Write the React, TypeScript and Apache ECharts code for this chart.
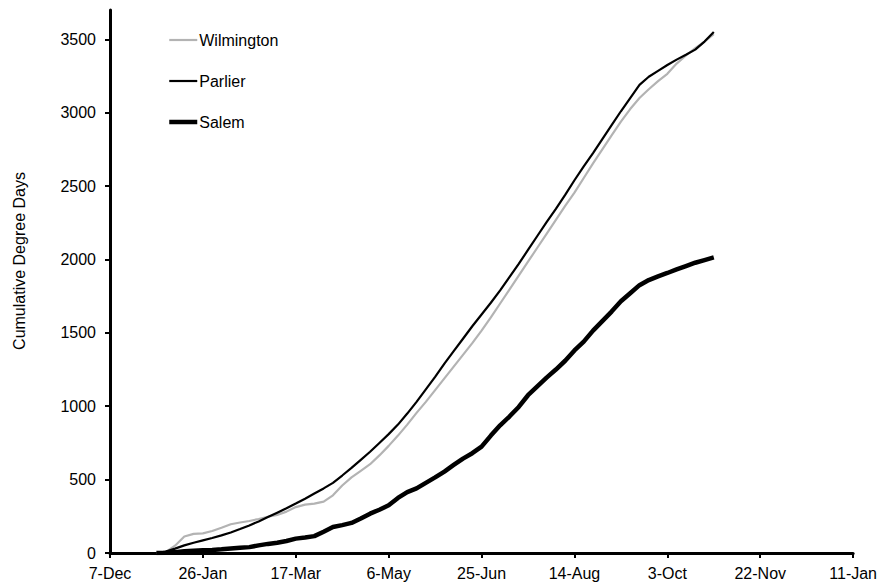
import React, { useEffect, useRef } from "react";
import * as echarts from "echarts";

// Days since 7-Dec (x axis origin)
const days = [
  25, 30, 35, 40, 45, 50, 55, 60, 65, 70, 75, 80, 85, 90, 95, 100, 105, 110, 115, 120,
  125, 130, 135, 140, 145, 150, 155, 160, 165, 170, 175, 180, 185, 190, 195, 200, 205, 210, 215, 220,
  225, 230, 235, 240, 245, 250, 255, 260, 265, 270, 275, 280, 285, 290, 295, 300, 305, 310, 315, 320, 325,
];

const wilmington = [
  0, 5, 50, 112, 130, 134, 150, 172, 196, 208, 218, 232, 247, 260, 282, 313, 330, 336, 350, 393,
  460, 515, 560, 605, 665, 730, 800, 875, 955, 1030, 1110, 1190, 1270, 1350, 1430, 1515, 1605, 1700, 1795, 1890,
  1985, 2080, 2175, 2270, 2365, 2455, 2555, 2655, 2750, 2845, 2940, 3025, 3100, 3160, 3215, 3265, 3335, 3390, 3440, 3485, 3535,
];

const parlier = [
  0, 10, 30, 52, 70, 86, 102, 120, 140, 163, 188, 215, 245, 275, 305, 337, 370, 405, 440, 478,
  528, 580, 635, 690, 750, 810, 875, 950, 1030, 1115, 1200, 1290, 1375, 1460, 1545, 1625, 1705, 1790, 1880, 1970,
  2065, 2160, 2255, 2345, 2440, 2540, 2635, 2725, 2820, 2915, 3010, 3100, 3190, 3245, 3285, 3325, 3362, 3395, 3430, 3485, 3550,
];

const salem = [
  0, 2, 6, 12, 15, 18, 21, 25, 30, 35, 40, 52, 62, 70, 82, 98, 105, 115, 145, 177,
  190, 205, 235, 268, 295, 325, 375, 415, 440, 478, 515, 555, 600, 643, 680, 725, 800, 870, 930, 995,
  1075, 1135, 1195, 1250, 1310, 1380, 1440, 1515, 1580, 1645, 1715, 1770, 1825, 1860, 1885, 1908, 1932, 1955, 1978, 1996, 2014,
];

const xTickLabels = ["7-Dec", "26-Jan", "17-Mar", "6-May", "25-Jun", "14-Aug", "3-Oct", "22-Nov", "11-Jan"];
const yTickValues = [0, 500, 1000, 1500, 2000, 2500, 3000, 3500];
const seriesNames = ["Wilmington", "Parlier", "Salem"];

const FONT = "'Liberation Sans', Arial, sans-serif";

export default function App() {
  const ref = useRef<HTMLDivElement>(null);
  useEffect(() => {
    if (!ref.current) return;
    const chart = echarts.init(ref.current, null, { renderer: "svg" });
    const toPairs = (vals: number[]) => days.map((d, i) => [d, vals[i]]);
    const axisLine = { show: true, lineStyle: { color: "#000", width: 3 } };
    const colors = ["#b3b3b3", "#000", "#000"];
    const widths = [2.2, 2.2, 4.5];
    chart.setOption({
      animation: false,
      backgroundColor: "#fff",
      grid: { left: 110, right: 26, top: 10, bottom: 31, containLabel: false },
      legend: {
        orient: "vertical",
        left: 167,
        top: 32,
        padding: 0,
        itemWidth: 28,
        itemHeight: 14,
        itemGap: 25,
        itemStyle: { opacity: 0 },
        textStyle: { fontFamily: FONT, fontSize: 16, color: "#000", padding: [0, 0, 0, -3] },
        data: seriesNames.map((n, i) => ({
          name: n,
          lineStyle: { color: colors[i], width: widths[i] },
        })),
      },
      xAxis: {
        type: "value",
        min: 0,
        max: 400,
        interval: 50,
        axisLine,
        axisTick: { show: true, inside: false, length: 5, lineStyle: { color: "#000", width: 2 } },
        axisLabel: {
          fontFamily: FONT,
          fontSize: 16,
          color: "#000",
          margin: 12,
          formatter: (v: number) => xTickLabels[Math.round(v / 50)] ?? "",
        },
        splitLine: { show: false },
      },
      yAxis: {
        type: "value",
        min: 0,
        max: 3700,
        interval: 500,
        axisLine,
        axisTick: { show: true, inside: false, length: 5, customValues: yTickValues, lineStyle: { color: "#000", width: 2 } },
        axisLabel: {
          fontFamily: FONT,
          fontSize: 16,
          color: "#000",
          margin: 14,
          customValues: yTickValues,
          formatter: (v: number) => String(v),
        },
        splitLine: { show: false },
      },
      graphic: [
        {
          type: "text",
          x: 19,
          y: 261,
          rotation: Math.PI / 2,
          style: {
            text: "Cumulative Degree Days",
            fontFamily: FONT,
            fontSize: 16,
            fill: "#000",
            align: "center",
            verticalAlign: "middle",
          },
        },
      ],
      series: seriesNames.map((n, i) => ({
        name: n,
        type: "line",
        data: toPairs([wilmington, parlier, salem][i]),
        symbol: "none",
        lineStyle: { color: colors[i], width: widths[i] },
        itemStyle: { color: colors[i] },
        z: 2 + i,
      })),
    });
    return () => chart.dispose();
  }, []);
  return <div ref={ref} style={{ position: "fixed", left: 0, top: 0, width: 880, height: 584 }} />;
}
